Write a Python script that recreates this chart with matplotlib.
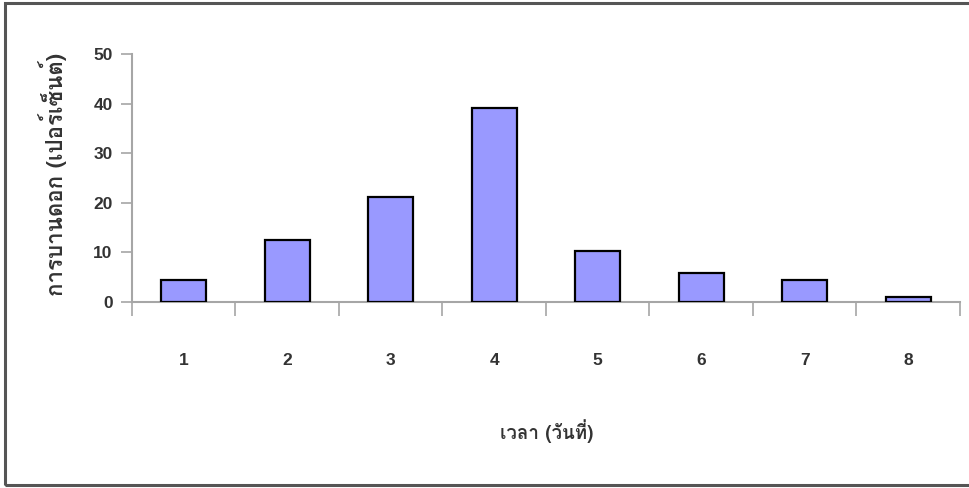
import matplotlib
matplotlib.use("Agg")
import matplotlib.pyplot as plt
from matplotlib import font_manager
from matplotlib.ft2font import FT2Font
from matplotlib.patches import Rectangle

# Data
days = ["1", "2", "3", "4", "5", "6", "7", "8"]
bloom_pct = [4.4, 12.6, 21.2, 39.1, 10.3, 5.8, 4.4, 0.95]
yticks = [0, 10, 20, 30, 40, 50]

XLABEL = "เวลา (วันที่)"
YLABEL = "การบานดอก (เปอร์เซ็นต์)"

AXIS_GRAY = "#a6a6a6"
BAR_COLOR = "#9999ff"
TEXT_COLOR = "#333333"


def find_thai_font():
    """Return the name of an installed font that has Thai glyphs."""
    names = []
    for f in font_manager.fontManager.ttflist:
        try:
            if 0x0E01 in FT2Font(f.fname).get_charmap():
                names.append(f.name)
        except Exception:
            pass
    return names[0] if names else "DejaVu Sans"


thai = find_thai_font()

fig = plt.figure(figsize=(9.7, 4.88), dpi=100)
ax = fig.add_axes([132 / 970, 1 - 302 / 488, (960 - 132) / 970, (302 - 54) / 488])

x = list(range(len(days)))
ax.bar(x, bloom_pct, width=0.435, color=BAR_COLOR, edgecolor="black", linewidth=1.6, zorder=3)

ax.set_xlim(-0.5, len(days) - 0.5)
ax.set_ylim(0, 50)
ax.set_yticks(yticks)
ax.set_yticklabels([str(t) for t in yticks])

# category boundary ticks, labels centred under bars
ax.set_xticks([i - 0.5 for i in range(len(days) + 1)])
ax.set_xticklabels([])
ax.set_xticks(x, minor=True)
ax.set_xticklabels(days, minor=True)
ax.tick_params(axis="x", which="major", length=10, width=1.2, color=AXIS_GRAY, direction="out")
ax.tick_params(axis="x", which="minor", length=0, pad=37, labelsize=12.5, labelcolor=TEXT_COLOR)
ax.tick_params(axis="y", length=8, width=1.2, color=AXIS_GRAY, pad=6, labelsize=12.5,
               labelcolor=TEXT_COLOR)
for lab in ax.get_xticklabels(minor=True) + ax.get_yticklabels():
    lab.set_fontfamily("Liberation Sans")
    lab.set_fontweight("bold")

for side in ["top", "right"]:
    ax.spines[side].set_visible(False)
for side in ["left", "bottom"]:
    ax.spines[side].set_color(AXIS_GRAY)
    ax.spines[side].set_linewidth(1.5)

fig.text(547 / 970, 1 - 431 / 488, XLABEL, ha="center", va="center", fontsize=13.5,
         fontweight="bold", family=[thai, "DejaVu Sans"], color=TEXT_COLOR)
fig.text(53 / 970, 1 - 174 / 488, YLABEL, ha="center", va="center", rotation=90,
         fontsize=16, fontweight="bold", family=[thai, "DejaVu Sans"], color=TEXT_COLOR)

# outer frame (no right edge visible in the reference)
fig.patches.append(Rectangle((5 / 970, 3 / 488), 1.1, 482 / 488, transform=fig.transFigure,
                             fill=False, edgecolor="#555555", linewidth=2.2))

fig.savefig("out.png", dpi=100, facecolor="white")
